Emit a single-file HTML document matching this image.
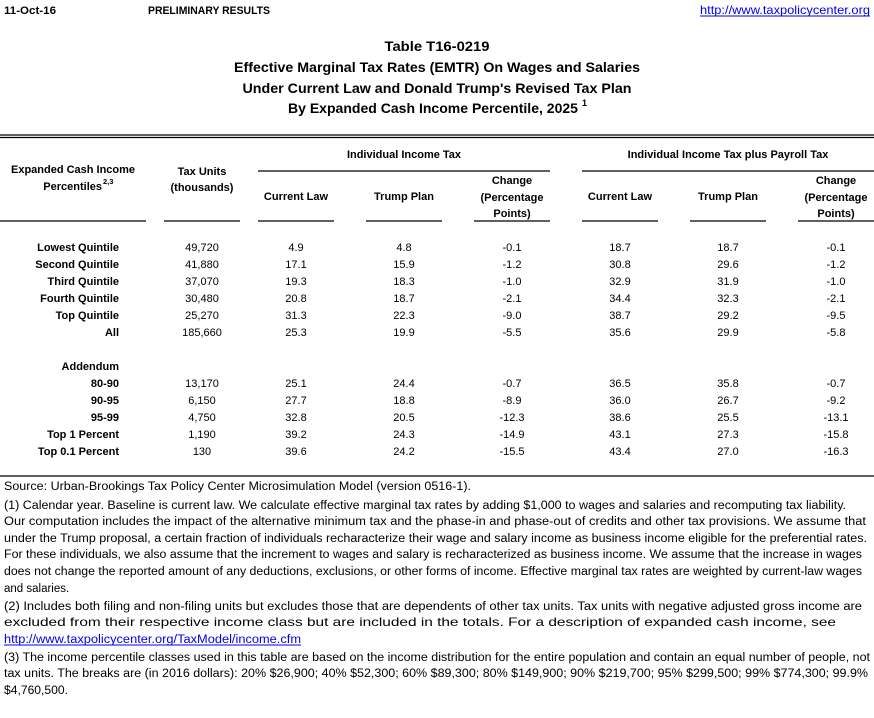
<!DOCTYPE html>
<html><head><meta charset="utf-8"><style>
html,body{margin:0;padding:0;background:#fff;}
svg{display:block;font-family:"Liberation Sans",sans-serif;}
</style></head><body>
<svg width="874" height="718" viewBox="0 0 874 718" xmlns="http://www.w3.org/2000/svg">
<g font-size="11" font-weight="bold">
<text x="4" y="14" textLength="52" lengthAdjust="spacingAndGlyphs">11-Oct-16</text>
<text x="148" y="14" textLength="122" lengthAdjust="spacingAndGlyphs">PRELIMINARY RESULTS</text>
</g>
<text x="700" y="14" font-size="12" fill="#0000ee" textLength="170" lengthAdjust="spacingAndGlyphs">http://www.taxpolicycenter.org</text>
<line x1="700" y1="16" x2="870" y2="16" stroke="#0000ee" stroke-width="1"/>
<g font-size="14" font-weight="bold" text-anchor="middle">
<text x="437" y="51" textLength="105" lengthAdjust="spacingAndGlyphs">Table T16-0219</text>
<text x="437" y="72" textLength="406" lengthAdjust="spacingAndGlyphs">Effective Marginal Tax Rates (EMTR) On Wages and Salaries</text>
<text x="437" y="93" textLength="389" lengthAdjust="spacingAndGlyphs">Under Current Law and Donald Trump's Revised Tax Plan</text>
<text x="433" y="113" textLength="290" lengthAdjust="spacingAndGlyphs">By Expanded Cash Income Percentile, 2025</text>
</g>
<text x="582" y="106" font-size="9" font-weight="bold">1</text>
<line x1="0" y1="135" x2="874" y2="135" stroke="#000" stroke-width="1.3"/>
<line x1="0" y1="137.5" x2="874" y2="137.5" stroke="#000" stroke-width="1.3"/>
<g stroke="#000" stroke-width="1.3">
<line x1="258" y1="171" x2="550" y2="171"/>
<line x1="582" y1="171" x2="874" y2="171"/>
<line x1="0" y1="221" x2="146" y2="221"/>
<line x1="164" y1="221" x2="240" y2="221"/>
<line x1="258" y1="221" x2="334" y2="221"/>
<line x1="366" y1="221" x2="442" y2="221"/>
<line x1="474" y1="221" x2="550" y2="221"/>
<line x1="582" y1="221" x2="658" y2="221"/>
<line x1="690" y1="221" x2="766" y2="221"/>
<line x1="798" y1="221" x2="874" y2="221"/>
<line x1="0" y1="476" x2="874" y2="476"/>
</g>
<g font-size="11" font-weight="bold" text-anchor="middle">
<text x="73" y="173" textLength="124" lengthAdjust="spacingAndGlyphs">Expanded Cash Income</text>
<text x="202" y="175">Tax Units</text>
<text x="202" y="191">(thousands)</text>
<text x="404" y="158">Individual Income Tax</text>
<text x="728" y="158">Individual Income Tax plus Payroll Tax</text>
<text x="296" y="200">Current Law</text>
<text x="404" y="200">Trump Plan</text>
<text x="620" y="200">Current Law</text>
<text x="728" y="200">Trump Plan</text>
<text x="512" y="184">Change</text>
<text x="512" y="201">(Percentage</text>
<text x="512" y="217">Points)</text>
<text x="836" y="184">Change</text>
<text x="836" y="201">(Percentage</text>
<text x="836" y="217">Points)</text>
</g>
<text x="102" y="190" font-size="11" font-weight="bold" text-anchor="end">Percentiles</text>
<text x="103" y="184" font-size="7.5" font-weight="bold">2,3</text>
<g font-size="11" font-weight="bold" text-anchor="end">
<text x="119" y="251">Lowest Quintile</text>
<text x="119" y="268">Second Quintile</text>
<text x="119" y="285">Third Quintile</text>
<text x="119" y="302">Fourth Quintile</text>
<text x="119" y="319">Top Quintile</text>
<text x="119" y="336">All</text>
<text x="119" y="370">Addendum</text>
<text x="119" y="387">80-90</text>
<text x="119" y="404">90-95</text>
<text x="119" y="421">95-99</text>
<text x="119" y="438">Top 1 Percent</text>
<text x="119" y="455">Top 0.1 Percent</text>
</g>
<g font-size="11" text-anchor="middle">
<g transform="translate(0,251)">
<text x="202">49,720</text><text x="296">4.9</text><text x="404">4.8</text><text x="512">-0.1</text><text x="620">18.7</text><text x="728">18.7</text><text x="836">-0.1</text></g>
<g transform="translate(0,268)">
<text x="202">41,880</text><text x="296">17.1</text><text x="404">15.9</text><text x="512">-1.2</text><text x="620">30.8</text><text x="728">29.6</text><text x="836">-1.2</text></g>
<g transform="translate(0,285)">
<text x="202">37,070</text><text x="296">19.3</text><text x="404">18.3</text><text x="512">-1.0</text><text x="620">32.9</text><text x="728">31.9</text><text x="836">-1.0</text></g>
<g transform="translate(0,302)">
<text x="202">30,480</text><text x="296">20.8</text><text x="404">18.7</text><text x="512">-2.1</text><text x="620">34.4</text><text x="728">32.3</text><text x="836">-2.1</text></g>
<g transform="translate(0,319)">
<text x="202">25,270</text><text x="296">31.3</text><text x="404">22.3</text><text x="512">-9.0</text><text x="620">38.7</text><text x="728">29.2</text><text x="836">-9.5</text></g>
<g transform="translate(0,336)">
<text x="202">185,660</text><text x="296">25.3</text><text x="404">19.9</text><text x="512">-5.5</text><text x="620">35.6</text><text x="728">29.9</text><text x="836">-5.8</text></g>
<g transform="translate(0,387)">
<text x="202">13,170</text><text x="296">25.1</text><text x="404">24.4</text><text x="512">-0.7</text><text x="620">36.5</text><text x="728">35.8</text><text x="836">-0.7</text></g>
<g transform="translate(0,404)">
<text x="202">6,150</text><text x="296">27.7</text><text x="404">18.8</text><text x="512">-8.9</text><text x="620">36.0</text><text x="728">26.7</text><text x="836">-9.2</text></g>
<g transform="translate(0,421)">
<text x="202">4,750</text><text x="296">32.8</text><text x="404">20.5</text><text x="512">-12.3</text><text x="620">38.6</text><text x="728">25.5</text><text x="836">-13.1</text></g>
<g transform="translate(0,438)">
<text x="202">1,190</text><text x="296">39.2</text><text x="404">24.3</text><text x="512">-14.9</text><text x="620">43.1</text><text x="728">27.3</text><text x="836">-15.8</text></g>
<g transform="translate(0,455)">
<text x="202">130</text><text x="296">39.6</text><text x="404">24.2</text><text x="512">-15.5</text><text x="620">43.4</text><text x="728">27.0</text><text x="836">-16.3</text></g>
</g>
<g font-size="11.5">
<text x="4" y="490" textLength="467" lengthAdjust="spacingAndGlyphs">Source: Urban-Brookings Tax Policy Center Microsimulation Model (version 0516-1).</text>
<text x="4" y="509" textLength="842" lengthAdjust="spacingAndGlyphs">(1) Calendar year. Baseline is current law. We calculate effective marginal tax rates by adding $1,000 to wages and salaries and recomputing tax liability.</text>
<text x="4" y="525" textLength="862" lengthAdjust="spacingAndGlyphs">Our computation includes the impact of the alternative minimum tax and the phase-in and phase-out of credits and other tax provisions. We assume that</text>
<text x="4" y="542" textLength="863" lengthAdjust="spacingAndGlyphs">under the Trump proposal, a certain fraction of individuals recharacterize their wage and salary income as business income eligible for the preferential rates.</text>
<text x="4" y="558" textLength="858" lengthAdjust="spacingAndGlyphs">For these individuals, we also assume that the increment to wages and salary is recharacterized as business income. We assume that the increase in wages</text>
<text x="4" y="575" textLength="858" lengthAdjust="spacingAndGlyphs">does not change the reported amount of any deductions, exclusions, or other forms of income. Effective marginal tax rates are weighted by current-law wages</text>
<text x="4" y="592">and salaries.</text>
<text x="4" y="610" textLength="858" lengthAdjust="spacingAndGlyphs">(2) Includes both filing and non-filing units but excludes those that are dependents of other tax units. Tax units with negative adjusted gross income are</text>
<text x="4" y="626" font-size="12" textLength="832" lengthAdjust="spacingAndGlyphs">excluded from their respective income class but are included in the totals. For a description of expanded cash income, see</text>
<text x="4" y="643" textLength="297" lengthAdjust="spacingAndGlyphs" fill="#0000ee">http://www.taxpolicycenter.org/TaxModel/income.cfm</text>
<text x="4" y="661" textLength="866" lengthAdjust="spacingAndGlyphs">(3) The income percentile classes used in this table are based on the income distribution for the entire population and contain an equal number of people, not</text>
<text x="4" y="677" textLength="864" lengthAdjust="spacingAndGlyphs">tax units. The breaks are (in 2016 dollars): 20% $26,900; 40% $52,300; 60% $89,300; 80% $149,900; 90% $219,700; 95% $299,500; 99% $774,300; 99.9%</text>
<text x="4" y="694" textLength="64" lengthAdjust="spacingAndGlyphs">$4,760,500.</text>
</g>
<line x1="4" y1="645" x2="301" y2="645" stroke="#0000ee" stroke-width="1"/>
</svg>
</body></html>
